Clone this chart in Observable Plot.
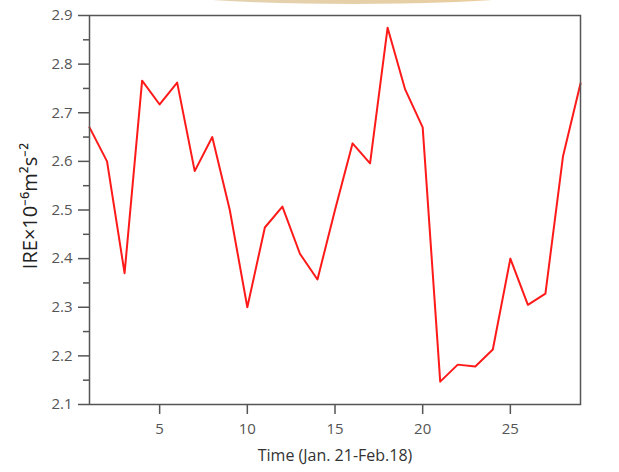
<!DOCTYPE html>
<html>
<head>
<meta charset="utf-8">
<script src="https://cdn.jsdelivr.net/npm/d3@7"></script>
<script src="https://cdn.jsdelivr.net/npm/@observablehq/plot@0.6"></script>
<style>
  html, body { margin: 0; padding: 0; background: #fff; }
  #wrap { position: relative; width: 619px; height: 472px; overflow: hidden; }
  #deco { position: absolute; left: 100px; top: -42px; width: 505px; height: 46px;
          border-radius: 50%; background: linear-gradient(90deg, #e2d3b6 0%, #e6cfa6 60%, #f1c98f 100%); }
  #chart { position: absolute; left: 0; top: 0; }
</style>
</head>
<body>
<div id="wrap"><div id="deco"></div><div id="chart"></div></div>
<script>
const days = [1,2,3,4,5,6,7,8,9,10,11,12,13,14,15,16,17,18,19,20,21,22,23,24,25,26,27,28,29];
const ire  = [2.67,2.60,2.37,2.766,2.717,2.762,2.58,2.65,2.50,2.30,2.464,2.507,2.41,2.357,2.50,2.637,2.596,2.875,2.748,2.67,2.147,2.182,2.178,2.213,2.40,2.305,2.328,2.61,2.76];
const xTicks = [5,10,15,20,25];
const yTicks = [2.1,2.2,2.3,2.4,2.5,2.6,2.7,2.8,2.9];
const yMinor = [2.15,2.25,2.35,2.45,2.55,2.65,2.75,2.85];
const data = days.map((d,i) => ({day: d, v: ire[i]}));
const axisColor = "#555";

const chart = Plot.plot({
  width: 619,
  height: 472,
  marginLeft: 89,
  marginRight: 39,
  marginTop: 15,
  marginBottom: 68,
  style: {fontFamily: "'Open Sans', sans-serif", background: "transparent", color: axisColor},
  x: {domain: [1, 29]},
  y: {domain: [2.1, 2.9]},
  marks: [
    Plot.line(data, {x: "day", y: "v", stroke: "#ff1a1a", strokeWidth: 2}),
    Plot.frame({stroke: axisColor, strokeWidth: 1.5}),
    Plot.axisY(yTicks, {tickSize: 11, tickPadding: 6, fontSize: 15, stroke: axisColor, strokeWidth: 1.5, fill: axisColor,
      tickFormat: d3.format(".1f"), label: null}),
    Plot.axisY(yMinor, {tickSize: 6, text: null, stroke: axisColor, strokeWidth: 1.5, label: null}),
    Plot.axisX(xTicks, {tickSize: 10, tickPadding: 9, fontSize: 15, stroke: axisColor, strokeWidth: 1.5, fill: axisColor, label: null}),
    Plot.text(["Time (Jan. 21-Feb.18)"], {frameAnchor: "bottom", dy: 56, fontSize: 16, fill: "#333"}),
    Plot.text(["IRE×10⁻⁶m²s⁻²"], {frameAnchor: "left", textAnchor: "middle", dx: -59, dy: -4, rotate: -90, fontSize: 20, fill: "#222"})
  ]
});
document.getElementById("chart").appendChild(chart);
</script>
</body>
</html>
